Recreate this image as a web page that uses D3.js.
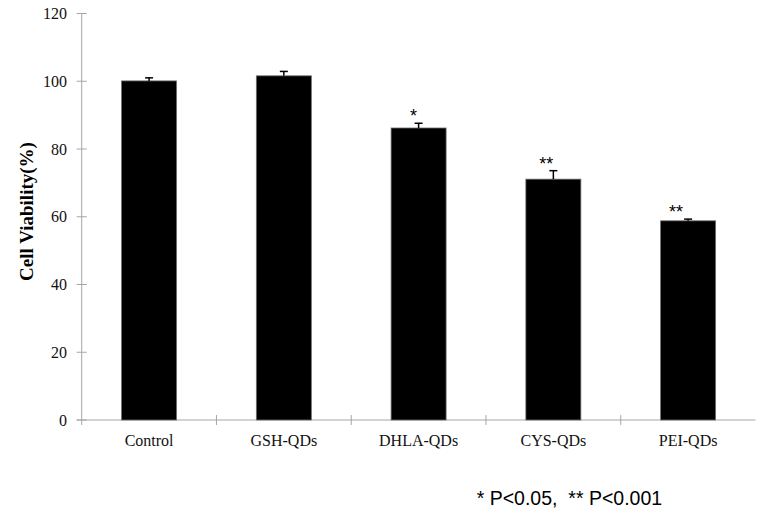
<!DOCTYPE html>
<html>
<head>
<meta charset="utf-8">
<script src="https://cdn.jsdelivr.net/npm/d3@7"></script>
<style>
  html, body { margin: 0; padding: 0; background: #fff; }
  svg { display: block; }
</style>
</head>
<body>
<div id="chart"></div>
<script>
  // chart values
  var categories = ["Control", "GSH-QDs", "DHLA-QDs", "CYS-QDs", "PEI-QDs"];
  var viability = [100.1, 101.6, 86.2, 71.1, 58.8];
  var errors = [0.9, 1.3, 1.4, 2.5, 0.5];
  var significance = ["", "", "*", "**", "**"];
  var yTicks = [0, 20, 40, 60, 80, 100, 120];
  var footnote = "* P<0.05,  ** P<0.001";

  var W = 762, H = 514;
  var serif = "'Liberation Serif', 'Times New Roman', serif";
  var sans = "'Liberation Sans', Arial, sans-serif";
  var axisColor = "#a6a6a6";

  var svg = d3.select("#chart").append("svg")
    .attr("width", W)
    .attr("height", H);

  var y = d3.scaleLinear().domain([0, 120]).range([420, 13.5]);
  var x = d3.scaleBand().domain(categories).range([81.7, 755.5]).padding(0);
  var barW = 55;

  // y axis: line, crossing ticks, labels
  svg.append("line")
    .attr("x1", 81.7).attr("x2", 81.7)
    .attr("y1", y(120)).attr("y2", 425)
    .attr("stroke", axisColor).attr("stroke-width", 1);

  svg.selectAll(".ytick").data(yTicks).enter().append("line")
    .attr("x1", 76.7).attr("x2", 86.7)
    .attr("y1", function(d) { return y(d); })
    .attr("y2", function(d) { return y(d); })
    .attr("stroke", axisColor).attr("stroke-width", 1);

  svg.selectAll(".ylab").data(yTicks).enter().append("text")
    .attr("x", 67)
    .attr("y", function(d) { return y(d); })
    .attr("dy", "0.35em")
    .attr("text-anchor", "end")
    .style("font-family", serif)
    .style("font-size", "16px")
    .attr("fill", "#111")
    .text(function(d) { return d; });

  // x axis with category divider ticks
  svg.append("line")
    .attr("x1", 76.7).attr("x2", 755.5)
    .attr("y1", y(0)).attr("y2", y(0))
    .attr("stroke", axisColor).attr("stroke-width", 1);

  svg.selectAll(".xtick").data(categories.slice(1)).enter().append("line")
    .attr("x1", function(d) { return x(d); })
    .attr("x2", function(d) { return x(d); })
    .attr("y1", y(0) - 5).attr("y2", y(0) + 5)
    .attr("stroke", axisColor).attr("stroke-width", 1);

  svg.selectAll(".xlab").data(categories).enter().append("text")
    .attr("x", function(d) { return x(d) + x.bandwidth() / 2; })
    .attr("y", 445.5)
    .attr("text-anchor", "middle")
    .style("font-family", serif)
    .style("font-size", "16px")
    .attr("fill", "#111")
    .text(function(d) { return d; });

  // bars
  svg.selectAll(".bar").data(categories).enter().append("rect")
    .attr("x", function(d) { return x(d) + x.bandwidth() / 2 - barW / 2; })
    .attr("y", function(d, i) { return y(viability[i]); })
    .attr("width", barW)
    .attr("height", function(d, i) { return y(0) - y(viability[i]); })
    .attr("fill", "#000")
    .attr("stroke", "#6e6e6e")
    .attr("stroke-width", 0.8);

  // error bars (upper half only)
  var err = svg.selectAll(".err").data(categories).enter().append("g");
  err.append("line")
    .attr("x1", function(d) { return x(d) + x.bandwidth() / 2; })
    .attr("x2", function(d) { return x(d) + x.bandwidth() / 2; })
    .attr("y1", function(d, i) { return y(viability[i]); })
    .attr("y2", function(d, i) { return y(viability[i] + errors[i]); })
    .attr("stroke", "#000").attr("stroke-width", 1.5);
  err.append("line")
    .attr("x1", function(d) { return x(d) + x.bandwidth() / 2 - 4; })
    .attr("x2", function(d) { return x(d) + x.bandwidth() / 2 + 4; })
    .attr("y1", function(d, i) { return y(viability[i] + errors[i]); })
    .attr("y2", function(d, i) { return y(viability[i] + errors[i]); })
    .attr("stroke", "#000").attr("stroke-width", 1.5);

  // significance stars, nudged left of the error bar like the original
  var starDx = [0, 0, -5, -7, -12];
  svg.selectAll(".star").data(categories).enter().append("text")
    .attr("x", function(d, i) { return x(d) + x.bandwidth() / 2 + starDx[i]; })
    .attr("y", function(d, i) { return y(viability[i] + errors[i]) - 1; })
    .attr("text-anchor", "middle")
    .style("font-family", sans)
    .style("font-size", "18px")
    .attr("fill", "#000")
    .text(function(d, i) { return significance[i]; });

  // y title
  svg.append("text")
    .attr("transform", "translate(33,211.5) rotate(-90)")
    .attr("text-anchor", "middle")
    .style("font-family", serif)
    .style("font-size", "19px")
    .style("font-weight", "bold")
    .attr("fill", "#000")
    .text("Cell Viability(%)");

  // footnote
  svg.append("text")
    .attr("x", 476.7)
    .attr("y", 505)
    .style("font-family", sans)
    .style("font-size", "19.5px")
    .style("white-space", "pre")
    .attr("fill", "#000")
    .text(footnote);
</script>
</body>
</html>
